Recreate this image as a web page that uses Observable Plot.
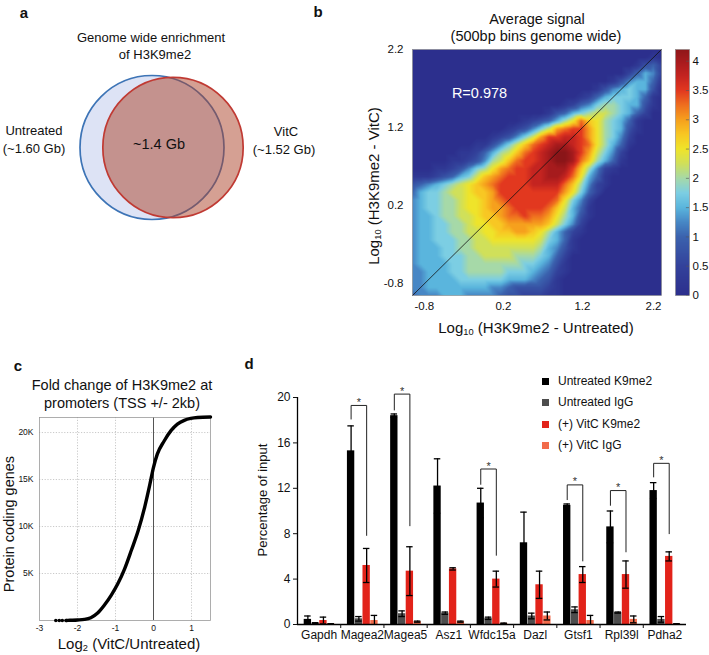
<!DOCTYPE html>
<html><head><meta charset="utf-8">
<script src="https://cdn.jsdelivr.net/npm/d3@7"></script>
<script src="https://cdn.jsdelivr.net/npm/@observablehq/plot@0.6"></script>
<style>
body{margin:0;background:#fff;font-family:"Liberation Sans",Arial,Helvetica,sans-serif;}
#fig{position:relative;width:709px;height:655px;overflow:hidden;background:#fff;}
.lbl{position:absolute;white-space:nowrap;color:#111;line-height:1;}
.lbl sub{font-size:0.62em;vertical-align:-0.3em;line-height:0;}
.sq{position:absolute;width:7px;height:7px;}
</style></head><body><div id="fig"></div>
<script>
// ---------------- DATA ----------------
// Panel a (Venn)
const vennNames = ["Untreated", "VitC"];
const vennSizesGb = [1.60, 1.52];
const vennOverlapGb = 1.4;
const vennTitle = ["Genome wide enrichment", "of H3K9me2"];

// Panel b (2D density of 500bp bins)
const heatTitle = ["Average signal", "(500bp bins genome wide)"];
const heatR = "0.978";
const heatTicks = [-0.8, 0.2, 1.2, 2.2];
const heatExtent = [-0.95, 2.2];
const colorbarTicks = [0, 0.5, 1, 1.5, 2, 2.5, 3, 3.5, 4];
const colorbarMax = 4.2;
const jetStops  = [0, 0.5, 1, 1.25, 1.5, 1.75, 2, 2.25, 2.5, 2.75, 3, 3.25, 3.5, 3.75, 4, 4.25];
const jetColors = ["#2c2f8d","#33429b","#3b62ae","#4787c5","#5ab5dd","#7ccee3","#a6d9a8","#d0e05a",
                   "#efe42a","#f8c723","#f6a01d","#ef6f1f","#e2381f","#c42420","#a61b1d","#8a1518"];
const densityCodes = "0123456789ABCDEFGH";   // level index, 0.25 per step
const densityStep = 0.25;
const densityRows = [   // top row (y = 2.2) first, left column (x = -0.95) first
  "00000000000000000000000000000000",
  "00000000000000000000000000000010",
  "00000000000000000000000000001342",
  "00000000000000000000000000024652",
  "00000000000000000000000001356641",
  "00000000000000000000000135676630",
  "00000000000000000000012467776410",
  "00000000000000000001245788766310",
  "00000000000000000134678998764200",
  "00000000000000123468ADBA87641000",
  "000000000000123579CDEECA87631000",
  "0000000000123579CEEFFECA87520000",
  "00000000113579BDEFGGFEDA86410000",
  "0000001124689BDEFGHHGEC975200000",
  "000001123589BDEEFGHHGDB864100000",
  "0001123578ACDEEFFGGGEB8521000000",
  "111234679BCDEEEFFGGFDA6410000000",
  "3456789ABCDEEEEFFFFDB85210000000",
  "4677899ABBCEEEEEEEECA74200000000",
  "5677889AABCDEEEEEEDA752000000000",
  "5677889AABCCDEEEEDB9641000000000",
  "56678899ABBCDDEDDCA8631000000000",
  "56677889AABBCCCCCB97520000000000",
  "566778899AABBCCBA864210000000000",
  "5667778899AAAAAA9764100000000000",
  "56667788999999998653100000000000",
  "56667778899998887642000000000000",
  "56666778888888776531000000000000",
  "55666778888877765421000000000000",
  "55666677777766654310000000000000",
  "55666666665543333210000000000000",
  "45556665555433222110000000000000"
];

// Panel c (cumulative fold change at promoters)
const foldTitle = ["Fold change of H3K9me2 at", "promoters (TSS +/- 2kb)"];
const foldX     = [-2.57, -2.48, -2.40, -2.30, -2.20, -2.00, -1.82, -1.65, -1.47, -1.30, -1.11, -0.94, -0.76, -0.58, -0.40, -0.23, -0.10, 0.00, 0.10, 0.28, 0.46, 0.63, 0.81, 0.98, 1.16, 1.50];
const foldGenes = [0, 0, 0, 0, 20, 60, 120, 300, 800, 1600, 2700, 3900, 5500, 7500, 9600, 12100, 14400, 16300, 17700, 19100, 20200, 20900, 21300, 21500, 21600, 21650];
const foldIsolated = 4;   // first points drawn as separate dots
const foldXTicks = [-3, -2, -1, 0, 1];
const foldYTicks = [5000, 10000, 15000, 20000];
const foldXDomain = [-3, 1.5];
const foldYMax = 21600;

// Panel d (ChIP-qPCR)
const genes = ["Gapdh", "Magea2", "Magea5", "Asz1", "Wfdc15a", "Dazl", "Gtsf1", "Rpl39l", "Pdha2"];
const seriesNames = ["Untreated K9me2", "Untreated IgG", "(+) VitC K9me2", "(+) VitC IgG"];
const seriesColors = ["#000000", "#4d4d4d", "#e2231a", "#f26b4b"];
const untreatedK9    = [0.45, 15.3, 18.4, 12.2, 10.7, 7.2, 10.5, 8.6, 11.8];
const untreatedK9Err = [0.30, 2.2, 0.15, 2.4, 1.3, 2.7, 0.12, 1.4, 0.7];
const untreatedIgG    = [0.12, 0.5, 0.95, 1.0, 0.55, 0.75, 1.3, 1.05, 0.45];
const untreatedIgGErr = [0.04, 0.2, 0.25, 0.1, 0.1, 0.25, 0.25, 0.05, 0.25];
const vitcK9    = [0.35, 5.2, 4.7, 4.9, 4.0, 3.5, 4.4, 4.4, 6.0];
const vitcK9Err = [0.30, 1.5, 2.15, 0.1, 0.7, 1.2, 0.7, 1.2, 0.4];
const vitcIgG    = [0.05, 0.35, 0.25, 0.25, 0.1, 0.75, 0.35, 0.45, 0.05];
const vitcIgGErr = [0.02, 0.45, 0.05, 0.05, 0.03, 0.35, 0.45, 0.3, 0.02];
const yTicksD = [0, 4, 8, 12, 16, 20];
const sigGenes    = ["Magea2", "Magea5", "Wfdc15a", "Gtsf1", "Rpl39l", "Pdha2"];
const sigTop      = [19.3, 20.3, 13.7, 12.3, 11.8, 14.2];
const sigLeftEnd  = [18.1, 18.9, 12.35, 11.0, 10.5, 13.0];
const sigRightEnd = [7.85, 8.7, 6.1, 5.6, 6.4, 8.0];

// ---------------- LAYOUT HELPERS ----------------
const FONT = '"Liberation Sans", Arial, Helvetica, sans-serif';
const fig = document.getElementById("fig");
function mount(svg, left, top, w) {
  const d = document.createElement("div");
  d.style.cssText = `position:absolute;left:${left}px;top:${top}px;width:${w}px;`;
  d.appendChild(svg); fig.appendChild(d);
}
function label(html, x, y, o = {}) {
  const el = document.createElement("div");
  el.className = "lbl";
  el.innerHTML = html;
  const tx = o.anchor === "start" ? "0" : o.anchor === "end" ? "-100%" : "-50%";
  el.style.left = x + "px"; el.style.top = y + "px";
  el.style.fontSize = (o.size || 13) + "px";
  el.style.fontWeight = o.weight || "normal";
  if (o.color) el.style.color = o.color;
  el.style.transform = `translate(${tx},-50%)` + (o.rotate ? ` rotate(${o.rotate}deg)` : "");
  fig.appendChild(el);
}
const baseStyle = {fontFamily: FONT, background: "transparent", overflow: "visible", color: "#111"};

// ---------------- PANEL a ----------------
{
  const maxSize = d3.max(vennSizesGb);
  const R = 72, GAP = 21, CX = 162, CY = 147;
  const circles = vennNames.map((n, i) => ({
    name: n, size: vennSizesGb[i],
    r: R * Math.sqrt(vennSizesGb[i] / maxSize),
    cx: CX + (i === 0 ? -GAP / 2 : GAP / 2), cy: CY
  }));
  const svg = Plot.plot({
    width: 320, height: 240, margin: 0,
    x: {type: "identity", axis: null}, y: {type: "identity", axis: null}, r: {type: "identity"},
    style: baseStyle,
    marks: [
      Plot.dot([circles[0]], {x: "cx", y: "cy", r: "r", fill: "#dde3f5", stroke: "#3d74b6", strokeWidth: 1.7}),
      Plot.dot([circles[1]], {x: "cx", y: "cy", r: "r", fill: "rgb(172,66,40)", fillOpacity: 0.5, stroke: "#c03a33", strokeWidth: 1.7})
    ]
  });
  mount(svg, 0, 0, 320);
  label(vennTitle[0], 151, 37, {size: 13});
  label(vennTitle[1], 155, 54, {size: 13});
  label(vennNames[0], 34, 130, {size: 13});
  label(`(~${vennSizesGb[0].toFixed(2)} Gb)`, 34, 148, {size: 13});
  label(vennNames[1], 286, 131, {size: 13});
  label(`(~${vennSizesGb[1].toFixed(2)} Gb)`, 284, 149, {size: 13});
  label(`~${vennOverlapGb} Gb`, 159, 144, {size: 14.5});
  label("a", 24, 12, {size: 15, weight: "bold"});
}

// ---------------- PANEL b ----------------
{
  const n = densityRows.length, m = densityRows[0].length;
  const stepX = (heatExtent[1] - heatExtent[0]) / (m - 1);
  const stepY = (heatExtent[1] - heatExtent[0]) / (n - 1);
  const cells = [];
  densityRows.forEach((row, r) => {
    const rr = row.padEnd(m, "0");
    for (let i = 0; i < m; i++) {
      cells.push({x: heatExtent[0] + i * stepX, y: heatExtent[1] - r * stepY,
                  v: densityCodes.indexOf(rr[i]) * densityStep});
    }
  });
  const colorOpts = {type: "linear", domain: jetStops, range: jetColors, clamp: true};
  const diag = heatExtent.map(v => ({x: v, y: v}));
  const svg = Plot.plot({
    width: 305, height: 335, marginLeft: 52, marginRight: 4, marginTop: 49, marginBottom: 40,
    style: baseStyle,
    x: {domain: heatExtent, label: null},
    y: {domain: heatExtent, label: null},
    color: colorOpts,
    marks: [
      Plot.raster(cells, {x: "x", y: "y", fill: "v", interpolate: "barycentric", pixelSize: 1.5}),
      Plot.line(diag, {x: "x", y: "y", stroke: "#111", strokeWidth: 0.8}),
      Plot.text([`R=${heatR}`], {frameAnchor: "top-left", dx: 67, dy: 38, text: d => d, fill: "white", fontSize: 14.5, textAnchor: "middle"}),
      Plot.frame({stroke: "#888", strokeWidth: 0.6}),
      Plot.axisX({ticks: heatTicks.filter(t => t < heatExtent[1]), tickSize: 0, tickPadding: 6, tickFormat: String, fontSize: 11.5, label: null}),
      Plot.axisX({ticks: heatTicks.filter(t => t >= heatExtent[1]), tickSize: 0, tickPadding: 6, tickFormat: String, fontSize: 11.5, label: null, dx: -8}),
      Plot.axisY({ticks: heatTicks, tickSize: 0, tickPadding: 9, tickFormat: String, fontSize: 11.5, label: null})
    ]
  });
  mount(svg, 360, 0, 305);

  const bar = Plot.plot({
    width: 44, height: 335, marginLeft: 10, marginRight: 20, marginTop: 49, marginBottom: 40,
    style: baseStyle,
    x: {domain: [0, 1], axis: null},
    y: {domain: [0, colorbarMax], label: null},
    color: colorOpts,
    marks: [
      Plot.raster({x1: 0, x2: 1, y1: 0, y2: colorbarMax, fill: (x, y) => y, width: 1, height: 246}),
      Plot.ruleY(colorbarTicks, {x1: 0.78, x2: 1, stroke: "#555", strokeWidth: 0.6}),
      Plot.frame({stroke: "#888", strokeWidth: 0.6}),
      Plot.axisY({anchor: "right", ticks: colorbarTicks, tickSize: 0, tickPadding: 3, tickFormat: String, fontSize: 11.5, label: null})
    ]
  });
  mount(bar, 665, 0, 44);

  label(heatTitle[0], 537, 19, {size: 14.5});
  label(heatTitle[1], 536, 36, {size: 14.5});
  label("Log<sub>10</sub> (H3K9me2 - VitC)", 373, 186, {size: 15, rotate: -90});
  label("Log<sub>10</sub> (H3K9me2 - Untreated)", 536, 327, {size: 15});
  label("b", 318, 11, {size: 15, weight: "bold"});
}

// ---------------- PANEL c ----------------
{
  const pts = foldX.map((x, i) => ({x, y: foldGenes[i]}));
  const svg = Plot.plot({
    width: 240, height: 335, marginLeft: 39, marginRight: 30, marginTop: 97, marginBottom: 35,
    style: baseStyle,
    x: {domain: foldXDomain, label: null},
    y: {domain: [0, foldYMax], label: null},
    marks: [
      Plot.gridX(foldXTicks.filter(t => t !== 0 && t !== foldXDomain[0]), {stroke: "#bbb", strokeOpacity: 1, strokeDasharray: "1.2 1.6", strokeWidth: 0.8}),
      Plot.gridY(foldYTicks, {stroke: "#bbb", strokeOpacity: 1, strokeDasharray: "1.2 1.6", strokeWidth: 0.8}),
      Plot.ruleX([0], {stroke: "#555", strokeWidth: 1}),
      Plot.frame({stroke: "#999", strokeWidth: 0.8}),
      Plot.line(pts.slice(foldIsolated - 1), {x: "x", y: "y", stroke: "#000", strokeWidth: 3.4, curve: "monotone-x"}),
      Plot.dot(pts.slice(0, foldIsolated), {x: "x", y: "y", r: 1.8, fill: "#000"}),
      Plot.axisX({ticks: foldXTicks, tickSize: 0, tickPadding: 4, tickFormat: String, fontSize: 8.5, label: null}),
      Plot.axisY({ticks: foldYTicks, tickSize: 0, tickPadding: 6, tickFormat: d => d / 1000 + "K", fontSize: 8.5, label: null})
    ]
  });
  mount(svg, 0, 320, 240);
  label(foldTitle[0], 122, 385, {size: 14.5});
  label(foldTitle[1], 122, 403, {size: 14.5});
  label("Protein coding genes", 9, 524, {size: 14.5, rotate: -90});
  label("Log<sub>2</sub> (VitC/Untreated)", 129, 643, {size: 15});
  label("c", 18, 365, {size: 15, weight: "bold"});
}

// ---------------- PANEL d ----------------
{
  const OFF = [0.24, 0.42, 0.60, 0.78], HALF = 0.085, CAP = 0.075;
  const vals = [untreatedK9, untreatedIgG, vitcK9, vitcIgG];
  const errs = [untreatedK9Err, untreatedIgGErr, vitcK9Err, vitcIgGErr];
  const bars = genes.flatMap((g, gi) => seriesNames.map((s, si) => ({g, gi, si, v: vals[si][gi], e: errs[si][gi]})));
  const cx = d => d.gi + OFF[d.si];
  const sig = sigGenes.map((g, k) => ({g, gi: genes.indexOf(g), top: sigTop[k], l: sigLeftEnd[k], r: sigRightEnd[k]}));
  const bracket = sig.flatMap(s => [
    {g: s.g, x: s.gi + OFF[0], y: s.l}, {g: s.g, x: s.gi + OFF[0], y: s.top},
    {g: s.g, x: s.gi + OFF[2], y: s.top}, {g: s.g, x: s.gi + OFF[2], y: s.r}]);
  const svg = Plot.plot({
    width: 469, height: 335, marginLeft: 57, marginRight: 23, marginTop: 77, marginBottom: 31,
    style: baseStyle,
    x: {domain: [0, genes.length], label: null},
    y: {domain: [0, 20], label: null},
    color: {type: "identity"},
    marks: [
      Plot.rectY(bars, {x1: d => cx(d) - HALF, x2: d => cx(d) + HALF, y1: 0, y2: "v", fill: d => seriesColors[d.si]}),
      Plot.ruleX(bars, {x: cx, y1: d => Math.max(0, d.v - d.e), y2: d => d.v + d.e, stroke: "#000", strokeWidth: 1.3}),
      Plot.ruleY(bars, {y: d => d.v + d.e, x1: d => cx(d) - CAP, x2: d => cx(d) + CAP, stroke: "#000", strokeWidth: 1.3}),
      Plot.ruleY(bars.filter(d => d.v - d.e > 0), {y: d => d.v - d.e, x1: d => cx(d) - CAP, x2: d => cx(d) + CAP, stroke: "#000", strokeWidth: 1.3}),
      Plot.line(bracket, {x: "x", y: "y", z: "g", stroke: "#222", strokeWidth: 1}),
      Plot.text(sig, {x: d => d.gi + (OFF[0] + OFF[2]) / 2, y: "top", text: () => "*", dy: -3, fontSize: 11, fill: "#333"}),
      Plot.ruleY([0], {stroke: "#000", strokeWidth: 1.3}),
      Plot.ruleX([0], {y1: 0, y2: 20, stroke: "#000", strokeWidth: 1.3}),
      Plot.axisY({ticks: yTicksD, tickSize: 4, tickPadding: 3, tickFormat: String, fontSize: 12, label: null}),
      Plot.axisX({ticks: d3.range(1, genes.length), tickSize: 4, tickFormat: () => "", label: null}),
      Plot.axisX({ticks: genes.map((g, i) => i + 0.5), tickSize: 0, tickPadding: 6, tickFormat: d => genes[Math.floor(d)], fontSize: 12, label: null})
    ]
  });
  mount(svg, 240, 320, 469);
  label("Percentage of input", 262, 500, {size: 13, rotate: -90});
  label("d", 249, 363, {size: 15, weight: "bold"});
  const legY = [381, 402, 424, 445];
  seriesNames.forEach((s, i) => {
    const sq = document.createElement("div");
    sq.className = "sq";
    sq.style.left = "542px"; sq.style.top = (legY[i] - 3.5) + "px"; sq.style.background = seriesColors[i];
    fig.appendChild(sq);
    label(s, 558, legY[i], {size: 12, anchor: "start"});
  });
}
</script></body></html>
